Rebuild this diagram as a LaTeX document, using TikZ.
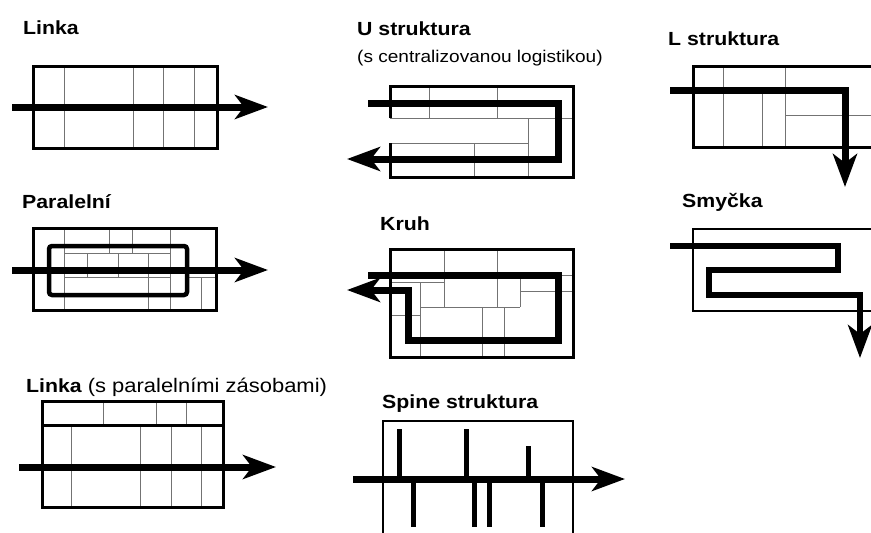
\documentclass[tikz,border=0pt]{standalone}
\usepackage{fontspec}
\setmainfont[FakeStretch=1.12]{Liberation Sans}
\usetikzlibrary{arrows.meta}
\begin{document}
\begin{tikzpicture}[x=1pt,y=-1pt,
  cell/.style={draw=black!55, line width=1pt},
  frame/.style={draw=black, line width=3pt, line join=miter},
  lightframe/.style={draw=black, line width=2.5pt, line join=miter},
  flow/.style={draw=black, line width=7pt, line join=miter},
  spine/.style={draw=black, line width=5pt},
  tip/.style={-{Stealth[length=33pt,width=24pt,inset=9pt]}},
  title/.style={inner sep=0pt, anchor=base west, font=\fontsize{19}{19}\selectfont\bfseries},
  sub/.style={inner sep=0pt, anchor=base west, font=\fontsize{17}{17}\selectfont}]
\path[use as bounding box] (0,0) rectangle (871,533);
\fill[white] (0,0) rectangle (871,533);
\clip (0,0) rectangle (871,533);

% ---------- Titles ----------
\node[title] (tLinka) at (23,34) {Linka};
\node[title] (tU) at (357,35) {U struktura};
\node[sub] (tUs) at (357,62) {(s centralizovanou logistikou)};
\node[title] (tL) at (668,45) {L struktura};
\node[title] (tPar) at (22,208) {Paralelní};
\node[title] (tKruh) at (380,230) {Kruh};
\node[title] (tSm) at (682,207) {Smyčka};
\node[title] (tLz) at (26,392) {Linka\mdseries\fontsize{19.6}{19.6}\selectfont\ (s paralelními zásobami)};
\node[title] (tSp) at (382,408) {Spine struktura};

% ---------- Linka ----------
\draw[cell] (64,66)--(64,148) (133,66)--(133,148) (163,66)--(163,148) (194,66)--(194,148);
\draw[frame] (33,66) rectangle (217,148);
\coordinate (l1a) at (12,107); \coordinate (l1b) at (268,107);
\draw[flow,tip] (l1a) -- (l1b);

% ---------- Paralelni ----------
\draw[cell] (64,228)--(64,310) (109,228)--(109,253) (132,228)--(132,253)
  (170,228)--(170,310) (64,253)--(170,253) (87,253)--(87,277) (118,253)--(118,277)
  (64,277)--(170,277) (148,253)--(148,310) (187,277)--(216,277) (201,277)--(201,310);
\draw[frame] (33,228) rectangle (216,310);
\draw[line width=4.5pt, rounded corners=3pt] (49,246) rectangle (187,295);
\coordinate (p1a) at (12,270); \coordinate (p1b) at (268,270);
\draw[flow,tip] (p1a) -- (p1b);

% ---------- Linka s paralelnimi zasobami ----------
\draw[cell] (103,401)--(103,425) (156,401)--(156,425) (186,401)--(186,425)
  (71,425)--(71,507) (140,425)--(140,507) (171,425)--(171,507) (201,425)--(201,507);
\draw[frame] (42,401) rectangle (223,507);
\draw[frame] (42,425) -- (223,425);
\coordinate (lza) at (19,467); \coordinate (lzb) at (276,467);
\draw[flow,tip] (lza) -- (lzb);

% ---------- U struktura ----------
\draw[cell] (390,118)--(573,118) (429,86)--(429,118) (497,86)--(497,118)
  (528,118)--(528,177) (390,143)--(528,143) (474,143)--(474,177);
\draw[frame] (390,118)--(390,86)--(573,86)--(573,177)--(390,177)--(390,143);
\coordinate (ua) at (368,103); \coordinate (ub) at (558,103);
\coordinate (uc) at (558,159); \coordinate (ud) at (347,159);
\draw[flow,tip] (ua) -- (ub) -- (uc) -- (ud);

% ---------- Kruh ----------
\draw[cell] (444,249)--(444,307) (497,249)--(497,307) (390,282)--(444,282)
  (420,282)--(420,357) (420,307)--(520,307) (520,275)--(520,307)
  (520,291)--(573,291) (558,275)--(573,275) (390,315)--(420,315)
  (482,307)--(482,357) (504,307)--(504,357);
\draw[frame] (390,249) rectangle (573,357);
\coordinate (ka) at (368,275); \coordinate (kb) at (558,275);
\coordinate (kc) at (558,340); \coordinate (kd) at (408,340);
\coordinate (ke) at (408,290); \coordinate (kf) at (347,290);
\draw[flow,tip] (ka) -- (kb) -- (kc) -- (kd) -- (ke) -- (kf);

% ---------- Spine struktura ----------
\draw[lightframe] (383,540)--(383,421)--(573,421)--(573,540);
\draw[spine] (399,429)--(399,479) (466,429)--(466,479) (528,446)--(528,479)
  (413,479)--(413,527) (474,479)--(474,527) (489,479)--(489,527) (542,479)--(542,527);
\coordinate (sa) at (353,479); \coordinate (sb) at (625,479);
\draw[flow,tip] (sa) -- (sb);

% ---------- L struktura ----------
\draw[cell] (723,66)--(723,147) (785,66)--(785,147) (762,90)--(762,147) (785,115)--(880,115);
\draw[frame] (880,66)--(693,66)--(693,147)--(880,147);
\coordinate (La) at (670,90); \coordinate (Lb) at (845,90); \coordinate (Lc) at (845,187);
\draw[flow,tip] (La) -- (Lb) -- (Lc);

% ---------- Smycka ----------
\draw[lightframe] (880,229)--(693,229)--(693,311)--(880,311);
\coordinate (ma) at (670,246); \coordinate (mb) at (838,246); \coordinate (mc) at (838,270);
\coordinate (md) at (709,270); \coordinate (me) at (709,295); \coordinate (mf) at (860,295);
\coordinate (mg) at (860,358);
\draw[flow,line width=5.5pt,tip] (ma) -- (mb) -- (mc) -- (md) -- (me) -- (mf) -- (mg);
\end{tikzpicture}
\end{document}
